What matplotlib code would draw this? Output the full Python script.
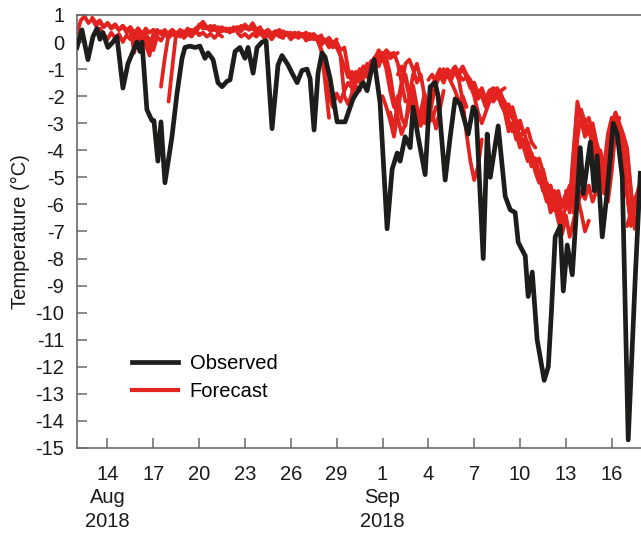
import numpy as np
import matplotlib
matplotlib.use("Agg")
import matplotlib.pyplot as plt
from matplotlib.lines import Line2D
from datetime import datetime, timedelta

plt.rcParams['font.family'] = ['Liberation Sans', 'DejaVu Sans']

# ---------------- data ----------------
base_date = datetime(2018, 8, 12)

# observed temperature: days since 12 Aug 2018 and value (deg C)
obs_days = [0.00, 0.33, 0.72, 1.05, 1.31, 1.51, 1.70, 2.03, 2.36, 2.62, 3.01, 3.34, 3.67, 3.93,
            4.13, 4.26, 4.58, 4.91, 5.04, 5.30, 5.50, 5.76, 6.22, 6.55, 6.88, 7.07, 7.40, 7.73,
            8.05, 8.38, 8.58, 8.91, 9.23, 9.50, 9.82, 10.02, 10.35, 10.67, 11.00, 11.20, 11.53,
            11.79, 12.12, 12.38, 12.77, 13.16, 13.42, 13.82, 14.08, 14.41, 14.73, 15.06, 15.26,
            15.52, 15.78, 16.04, 16.24, 16.57, 17.03, 17.55, 18.07, 18.40, 18.73, 18.99, 19.32,
            19.45, 19.84, 20.30, 20.63, 20.96, 21.15, 21.48, 21.81, 22.00, 22.33, 22.79, 23.12,
            23.44, 23.64, 24.10, 24.43, 24.75, 25.08, 25.61, 25.93, 26.13, 26.59, 26.85, 27.05,
            27.57, 28.03, 28.36, 28.68, 28.88, 29.34, 29.53, 29.80, 30.12, 30.58, 30.85, 31.05,
            31.30, 31.63, 31.83, 32.09, 32.42, 32.74, 32.94, 33.14, 33.60, 33.86, 34.05, 34.38,
            34.71, 35.10, 35.36, 35.69, 36.08, 36.54, 36.87]
obs_temp = [-0.2, 0.45, -0.65, 0.2, 0.5, 0.1, 0.35, -0.2, 0.0, 0.2, -1.7, -0.8, -0.35, 0.0,
            -0.35, 0.0, -2.5, -2.9, -2.9, -4.4, -2.95, -5.2, -3.5, -1.9, -0.6, -0.2, -0.15, -0.2,
            -0.15, -0.6, -0.4, -0.65, -1.5, -1.65, -1.45, -1.4, -0.35, -0.2, -0.6, -0.2, -1.15,
            -0.2, 0.0, 0.05, -3.2, -0.85, -0.5, -0.85, -1.15, -1.5, -1.05, -1.0, -1.35,
            -3.25, -1.15, -0.4, -0.55, -1.35, -2.95, -2.95, -2.1, -1.8, -1.5, -1.8, -0.9,
            -0.65, -2.25, -6.9, -4.7, -4.1, -4.4, -3.5, -3.9, -2.4, -3.5, -4.9, -1.65,
            -1.5, -2.0, -5.1, -3.5, -2.1, -2.3, -3.4, -2.4, -2.6, -8.0, -3.4, -5.0,
            -3.1, -5.7, -6.2, -6.3, -7.4, -7.9, -9.4, -8.5, -11.0, -12.5, -12.0, -10.0,
            -7.2, -6.8, -9.2, -7.5, -8.6, -5.8, -3.9, -5.6, -3.7, -5.5, -4.2, -7.2,
            -5.5, -3.0, -3.4, -5.0, -14.7, -8.7, -4.85]

# forecast runs: start (days since 12 Aug) and values every 6 h
fc_step = 0.25
fc_start = [0.0, 1.0, 1.5, 2.0, 3.0, 3.5, 4.0, 5.0, 5.5, 6.0, 6.5, 7.0, 8.0, 9.0, 10.0,
            10.5, 11.0, 12.0, 13.0, 13.5,
            14.0, 14.5, 15.0, 16.0, 16.5, 17.0, 18.0, 18.5, 19.0, 19.5, 20.0, 20.5, 21.0,
            22.0, 22.5, 23.0, 24.0, 24.5, 25.0, 26.0, 26.5, 27.0, 27.5, 28.0, 28.5, 29.0,
            29.5, 30.0, 30.5, 31.0, 31.5, 32.0, 32.5, 33.0, 33.5, 34.0, 34.5, 35.0, 35.5, 36.0]
fc_values = [
    [0.3, 0.8, 0.95, 0.7, 0.85, 0.6, 0.75, 0.55, 0.7, 0.5, 0.6, 0.45, 0.55],
    [0.9, 0.7, 0.8, 0.55, 0.7, 0.5, 0.65, 0.45, 0.6, 0.4, 0.55, 0.35, 0.5],
    [0.5, 0.3, 0.1, 0.35, 0.15, 0.3, 0.0, 0.25, 0.1, 0.3, 0.05, 0.2, 0.1],
    [0.7, 0.55, 0.65, 0.45, 0.6, 0.35, 0.5, 0.3, 0.45, 0.25, 0.5, 0.35, 0.45],
    [0.6, 0.45, 0.55, -0.4, 0.5, 0.2, 0.4, -0.2, 0.3, 0.45, 0.3, 0.4, 0.25],
    [0.3, 0.15, 0.3, 0.05, 0.25, 0.1, -0.3, 0.2, 0.05, 0.3, 0.15, 0.3, 0.2],
    [0.5, 0.35, -0.1, -0.5, 0.2, 0.4, 0.3, 0.45, 0.25, 0.4, 0.3, 0.45, 0.35],
    [0.45, 0.3, 0.4, 0.25, 0.35, 0.45, 0.3, 0.4, 0.2, 0.35, 0.25, 0.4, 0.3],
    [-1.65, -0.6, 0.3, 0.45, 0.25, 0.4, 0.3, 0.5, 0.35, 0.45],
    [-2.2, -0.9, 0.35, 0.2, 0.4, 0.3, 0.45, 0.35, 0.55, 0.7, 0.5, 0.6, 0.45],
    [0.2, 0.35, 0.15, 0.3, 0.2, 0.4, 0.25, 0.35, 0.2, 0.3, 0.15, 0.3, 0.2],
    [0.3, 0.45, 0.35, 0.5, 0.6, 0.75, 0.55, 0.5, 0.6, 0.45, 0.55, 0.4, 0.5],
    [0.65, 0.5, 0.55, 0.4, 0.5, 0.35, 0.45, 0.5, 0.4, 0.55, 0.45, 0.6, 0.5],
    [0.45, 0.55, 0.4, 0.5, 0.35, 0.45, 0.55, 0.4, 0.6, 0.5, 0.7, 0.45, 0.55],
    [0.5, 0.4, 0.55, 0.45, 0.65, 0.5, 0.6, 0.45, 0.5, 0.35, 0.45, 0.3, 0.4],
    [0.35, 0.2, 0.3, 0.15, 0.3, 0.2, 0.35, 0.15, 0.25, 0.1, 0.3, 0.2, 0.15],
    [0.55, 0.45, 0.5, 0.35, 0.45, 0.3, 0.4, 0.25, 0.35, 0.45, 0.3, 0.35, 0.25],
    [0.4, 0.35, 0.45, 0.3, 0.4, 0.25, 0.35, 0.3, 0.2, 0.35, 0.25, 0.3, 0.2],
    [0.35, 0.25, 0.4, 0.3, 0.35, 0.2, 0.3, 0.25, 0.35, 0.2, 0.3, 0.15, 0.25],
    [0.2, 0.3, 0.1, 0.25, 0.15, 0.3, 0.05, 0.2, 0.1, 0.2, -0.1, 0.05, -0.2],
    [0.3, 0.2, 0.35, 0.25, 0.3, 0.15, 0.25, 0.1, 0.2, 0.05, 0.15, -0.05, 0.1],
    [0.3, 0.2, 0.25, 0.1, 0.2, 0.05, -0.3, -1.5, -2.8],
    [0.2, 0.3, 0.15, 0.1, -0.3, -1.2, -2.0, -2.4, -1.9, -2.2, -1.8, -1.5, -1.7],
    [0.1, 0.0, 0.15, -0.1, 0.0, -0.3, -0.2, -1.0, -1.5, -1.1, -1.4, -0.9, -1.2],
    [0.0, -0.2, -0.1, -0.5, -2.0, -2.3, -1.9, -1.6, -1.8, -1.3, -1.1, -0.8, -1.0],
    [-0.2, -0.5, -0.9, -1.3, -1.1, -1.5, -1.2, -0.9, -1.1, -0.7, -0.9, -0.5, -0.7],
    [-1.8, -1.4, -1.0, -1.2, -0.8, -1.0, -0.6, -0.8, -0.5, -0.35, -0.6, -0.5, -0.4],
    [-1.5, -1.1, -1.3, -0.9, -0.7, -0.9, -0.5, -0.3, -0.45, -0.4, -0.8, -1.5, -2.2],
    [-1.0, -0.8, -0.55, -0.7, -0.4, -0.6, -1.2, -2.2, -2.8, -3.4, -3.0, -2.4, -1.8],
    [-0.6, -0.3, -0.5, -1.0, -1.8, -2.4, -2.0, -2.8, -3.1, -2.0, -1.2, -0.8, -1.4],
    [-2.0, -2.4, -2.9, -3.5, -2.6, -1.6, -0.8, -0.65, -1.0, -1.5, -1.2, -2.0, -2.6],
    [-2.6, -3.2, -2.2, -1.5, -1.2, -1.9, -2.6, -3.1, -2.6, -1.9, -2.5, -2.9, -2.4],
    [-1.2, -0.9, -1.4, -2.0, -1.6, -2.4, -2.8, -2.2, -3.0, -2.6, -3.2, -2.5, -1.8],
    [-2.0, -2.5, -3.1, -2.6, -3.0, -2.2, -1.6, -1.2, -1.5, -1.1, -1.4, -1.0, -1.3],
    [-2.6, -3.0, -2.4, -1.6, -1.3, -1.0, -1.3, -1.2, -1.5, -1.8, -2.2, -2.0, -2.4],
    [-1.4, -1.2, -1.5, -1.1, -1.3, -1.0, -1.2, -0.95, -1.1, -0.9, -1.2, -1.4, -1.7],
    [-1.0, -1.3, -1.1, -0.9, -1.2, -1.0, -1.3, -1.6, -2.0, -2.6, -3.0, -2.6, -2.2],
    [-1.3, -1.1, -1.4, -2.2, -3.4, -4.4, -5.1, -4.6, -3.6],
    [-1.2, -1.4, -1.3, -1.7, -1.5, -1.9, -1.7, -2.1, -1.8, -2.2, -2.0, -1.8, -1.7],
    [-1.8, -2.1, -1.9, -2.3, -2.0, -1.8, -1.7, -2.0, -2.2, -2.6, -2.4, -2.9, -3.2],
    [-2.0, -2.4, -2.2, -2.0, -1.8, -1.9, -2.3, -2.8, -2.6, -3.1, -3.5, -3.3, -3.8],
    [-1.8, -1.7, -2.0, -2.2, -2.5, -2.3, -2.8, -3.1, -2.9, -3.4, -3.2, -3.7, -3.9],
    [-1.9, -2.3, -2.6, -3.3, -3.0, -3.6, -3.4, -3.9, -3.7, -4.2, -4.5, -4.3, -4.8],
    [-2.6, -2.9, -3.3, -3.1, -3.6, -3.9, -4.3, -4.1, -4.6, -4.9, -4.7, -5.3, -5.6],
    [-3.0, -3.4, -3.9, -3.6, -4.1, -4.5, -4.3, -4.9, -5.5, -5.2, -5.8, -6.2, -5.9],
    [-3.6, -3.9, -4.4, -4.2, -4.8, -5.2, -5.0, -5.6, -6.3, -6.0, -6.6, -7.1, -6.5],
    [-4.0, -4.6, -4.3, -5.0, -5.4, -5.9, -5.6, -6.2, -5.8, -6.5, -6.1, -5.7, -6.0],
    [-4.6, -5.1, -4.8, -5.4, -5.8, -5.5, -6.1, -6.8, -6.4, -7.2, -6.6, -6.0, -5.6],
    [-5.0, -5.6, -5.3, -5.9, -6.4, -6.0, -5.6, -5.9, -5.4, -5.7, -6.3, -7.0, -6.6],
    [-5.4, -5.8, -5.5, -6.1, -5.7, -5.3, -5.6, -6.0, -5.5, -5.8, -5.3, -5.9, -5.5],
    [-5.6, -6.1, -5.7, -6.3, -4.2, -2.2, -2.8, -3.3, -3.1, -3.8, -4.3, -4.0, -4.6],
    [-5.5, -5.9, -4.0, -2.4, -2.9, -3.5, -3.2, -3.9, -4.4, -4.9, -5.6, -4.2, -3.0],
    [-6.3, -3.6, -2.6, -2.9, -3.4, -3.0, -3.7, -4.2, -5.0, -5.9, -4.8, -3.2, -2.8],
    [-2.5, -3.0, -2.8, -3.4, -3.9, -4.5, -5.2, -4.4, -3.3, -2.7, -3.2, -3.6, -4.1],
    [-3.2, -3.6, -4.2, -4.8, -5.4, -4.6, -3.5, -2.8, -3.1, -3.5, -4.0, -5.5, -6.8],
    [-4.2, -4.8, -5.3, -4.1, -3.0, -2.6, -3.0, -3.4, -3.9, -5.4, -6.9, -6.2, -5.6],
    [-4.6, -3.4, -2.8, -3.2, -3.6, -4.2, -5.6, -6.6, -6.0, -5.5, -5.1],
    [-2.8, -3.1, -3.5, -4.0, -5.5, -6.8, -6.2, -5.6, -5.0],
    [-3.4, -4.0, -5.6, -6.6, -6.0, -5.4, -5.1],
    [-6.8, -6.3, -5.8, -5.5, -5.0],
]

tick_dates = ['2018-08-14', '2018-08-17', '2018-08-20', '2018-08-23', '2018-08-26',
              '2018-08-29', '2018-09-01', '2018-09-04', '2018-09-07', '2018-09-10',
              '2018-09-13', '2018-09-16']
tick_labels = ['14\nAug\n2018', '17', '20', '23', '26', '29', '1\nSep\n2018', '4', '7',
               '10', '13', '16']
y_ticks = list(range(1, -16, -1))

legend_labels = ['Observed', 'Forecast']

# ---------------- plot ----------------
RED = '#e3231f'
BLACK = '#1d1d1b'
SPINE = '#6a6a6a'
FS = 14.5

fig = plt.figure(figsize=(6.41, 5.33), dpi=100)
ax = fig.add_axes([0.120, 0.1595, 0.882, 0.8124])

def to_dt(d):
    return base_date + timedelta(days=float(d))

for s, vals in zip(fc_start, fc_values):
    t = [to_dt(s + fc_step * i) for i in range(len(vals))]
    ax.plot(t, vals, color=RED, lw=2.7, solid_capstyle='round',
            solid_joinstyle='round', zorder=2)

ax.plot([to_dt(d) for d in obs_days], obs_temp, color=BLACK, lw=3.4,
        solid_joinstyle='round', zorder=3)

ax.set_xlim(base_date, base_date + timedelta(days=37))
ax.set_ylim(-15, 1)

ax.set_yticks(y_ticks)
ax.set_yticklabels([str(v) for v in y_ticks])
ax.set_xticks([datetime.strptime(d, '%Y-%m-%d') for d in tick_dates])
ax.set_xticklabels(tick_labels, linespacing=1.3, va='top')

ax.tick_params(axis='both', direction='in', length=7.5, width=1.1, color=SPINE,
               labelsize=FS, labelcolor='#1a1a1a')
ax.tick_params(axis='y', pad=9)
ax.tick_params(axis='x', pad=12)

for side in ['left', 'bottom', 'top']:
    ax.spines[side].set_color(SPINE)
    ax.spines[side].set_linewidth(1.2)
ax.spines['right'].set_visible(False)

ax.set_ylabel('Temperature (°C)', fontsize=FS, color='#1a1a1a', labelpad=4)

handles = [Line2D([0], [0], color=BLACK, lw=3.4), Line2D([0], [0], color=RED, lw=3.0)]
ax.legend(handles, legend_labels, loc='upper left', bbox_to_anchor=(0.066, 0.258),
          frameon=False, fontsize=FS, handlelength=2.25, handletextpad=0.6,
          labelspacing=0.45)

fig.savefig('out.png', dpi=100)
